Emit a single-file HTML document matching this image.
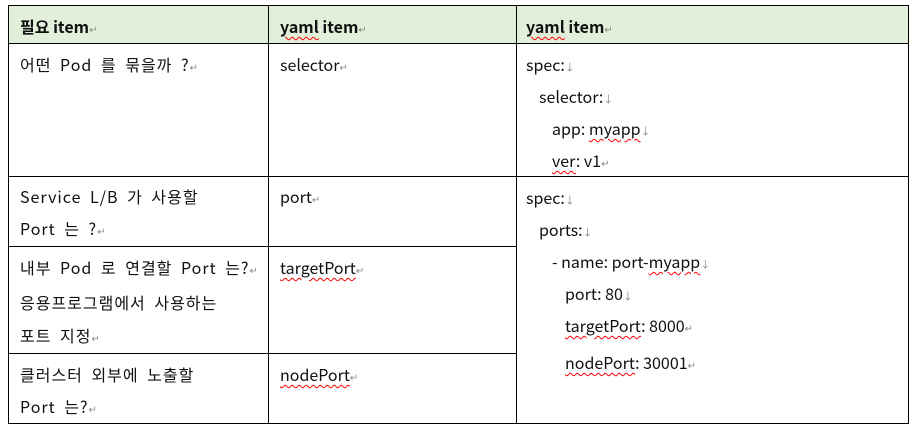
<!DOCTYPE html>
<html><head><meta charset="utf-8"><style>
body{margin:0;width:910px;height:430px;background:#fff;position:relative;overflow:hidden;font-family:"Noto Sans CJK KR","Liberation Sans",sans-serif;font-size:16px;color:#111}
.l{position:absolute;height:1px;background:#000}
.v{position:absolute;width:1px;background:#000}
.t{position:absolute;line-height:20px;white-space:nowrap}
.k{letter-spacing:1px;word-spacing:4px}
.m{color:#888;font-size:10px;letter-spacing:0}
.w{text-decoration:underline wavy red;text-decoration-thickness:1px;text-underline-offset:3px}
b{font-weight:bold}
</style></head><body>
<div style="position:absolute;left:8px;top:5px;width:900px;height:38px;background:#e2efda"></div>
<div class="l" style="left:8px;top:5px;width:901px"></div>
<div class="l" style="left:8px;top:43px;width:901px"></div>
<div class="l" style="left:8px;top:176px;width:901px"></div>
<div class="l" style="left:8px;top:246px;width:508px"></div>
<div class="l" style="left:8px;top:353px;width:508px"></div>
<div class="l" style="left:8px;top:423px;width:901px"></div>
<div class="v" style="left:8px;top:5px;height:419px"></div>
<div class="v" style="left:268px;top:5px;height:419px"></div>
<div class="v" style="left:516px;top:5px;height:419px"></div>
<div class="v" style="left:908px;top:5px;height:419px"></div>

<div class="t" style="left:20px;top:16px"><b>필요 item</b><span class="m">↵</span></div>
<div class="t" style="left:280px;top:16px"><b><span class="w">yaml</span> item</b><span class="m">↵</span></div>
<div class="t" style="left:526px;top:16px"><b><span class="w">yaml</span> item</b><span class="m">↵</span></div>

<div class="t k" style="left:20px;top:54px">어떤 Pod 를 묶을까 ?<span class="m">↵</span></div>
<div class="t" style="left:280px;top:54px">selector<span class="m">↵</span></div>
<div class="t" style="left:526px;top:54px">spec:<span class="m">↓</span></div>
<div class="t" style="left:539px;top:86px">selector:<span class="m">↓</span></div>
<div class="t" style="left:552px;top:118px">app: <span class="w">myapp</span><span class="m">↓</span></div>
<div class="t" style="left:552px;top:150px"><span class="w">ver</span>: v1<span class="m">↵</span></div>

<div class="t k" style="left:20px;top:186px">Service L/B 가 사용할</div>
<div class="t k" style="left:20px;top:218px">Port 는 ?<span class="m">↵</span></div>
<div class="t" style="left:280px;top:186px">port<span class="m">↵</span></div>
<div class="t" style="left:526px;top:187px">spec:<span class="m">↓</span></div>
<div class="t" style="left:539px;top:219px">ports:<span class="m">↓</span></div>
<div class="t" style="left:552px;top:251px">- name: port-<span class="w">myapp</span><span class="m">↓</span></div>
<div class="t" style="left:565px;top:283px">port: 80<span class="m">↓</span></div>
<div class="t" style="left:565px;top:315px"><span class="w">targetPort</span>: 8000<span class="m">↵</span></div>
<div class="t" style="left:565px;top:352px"><span class="w">nodePort</span>: 30001<span class="m">↵</span></div>

<div class="t k" style="left:20px;top:257px">내부 Pod 로 연결할 Port 는?<span class="m">↵</span></div>
<div class="t k" style="left:20px;top:292px">응용프로그램에서 사용하는</div>
<div class="t k" style="left:20px;top:325px">포트 지정<span class="m">↵</span></div>
<div class="t" style="left:280px;top:257px"><span class="w">targetPort</span><span class="m">↵</span></div>

<div class="t k" style="left:20px;top:364px">클러스터 외부에 노출할</div>
<div class="t k" style="left:20px;top:396px">Port 는?<span class="m">↵</span></div>
<div class="t" style="left:280px;top:364px"><span class="w">nodePort</span><span class="m">↵</span></div>
</body></html>
